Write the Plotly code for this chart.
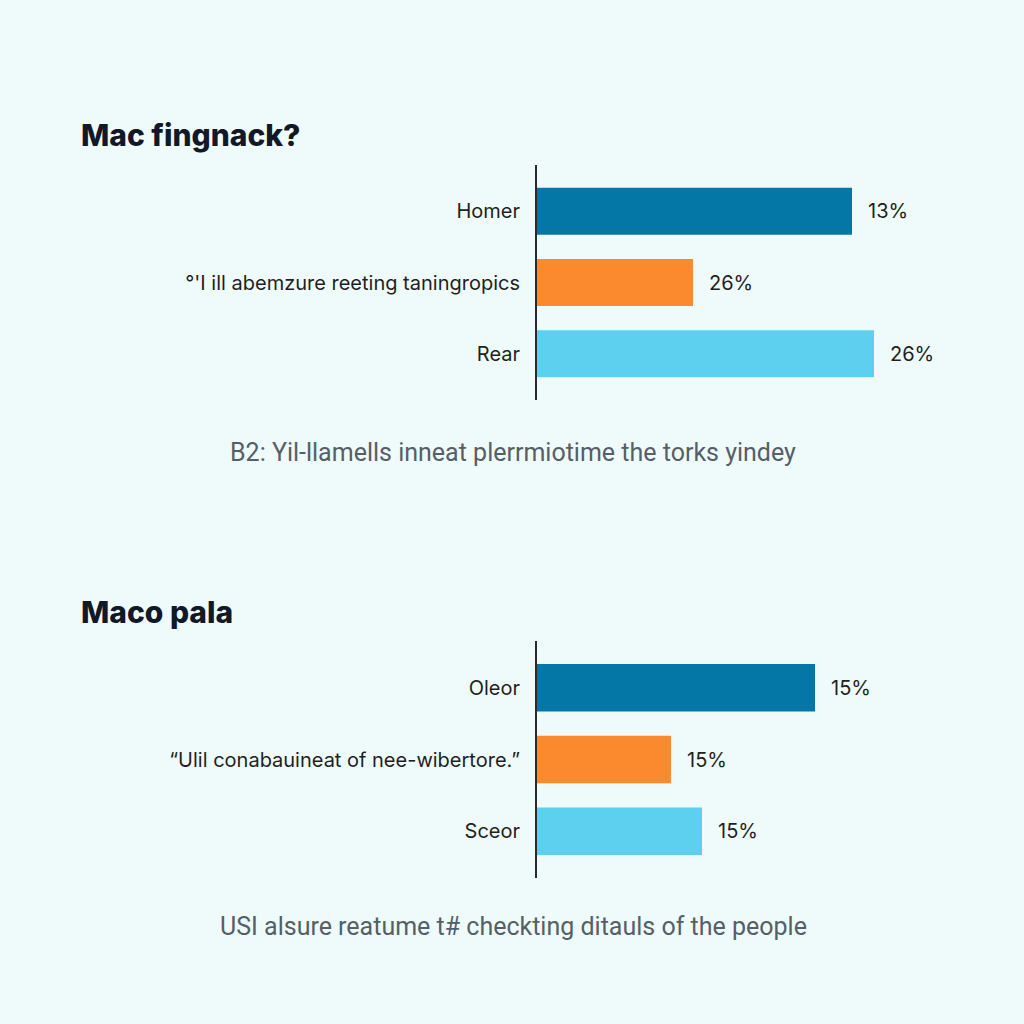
import plotly.graph_objects as go

# ---- data ----
title_top = "Mac fingnack?"
cats_top = ["Homer", "°'I ill abemzure reeting taningropics", "Rear"]
vals_top = [31.5, 15.6, 33.7]
labels_top = ["13%", "26%", "26%"]
note_top = "B2: Yil-llamells inneat plerrmiotime the torks yindey"

title_bot = "Maco pala"
cats_bot = ["Oleor", "“Ulil conabauineat of nee-wibertore.”", "Sceor"]
vals_bot = [27.8, 13.4, 16.5]
labels_bot = ["15%", "15%", "15%"]
note_bot = "USI alsure reatume t# checkting ditauls of the people"

colors = ["#0577a6", "#fb8a2f", "#5dd0ef"]
bg = "#effbfb"

fig = go.Figure()
fig.add_trace(go.Bar(y=cats_top, x=vals_top, orientation="h", marker=dict(color=colors, line=dict(width=0)),
                     xaxis="x", yaxis="y", showlegend=False, hoverinfo="skip"))
fig.add_trace(go.Bar(y=cats_bot, x=vals_bot, orientation="h", marker=dict(color=colors, line=dict(width=0)),
                     xaxis="x2", yaxis="y2", showlegend=False, hoverinfo="skip"))

H = 1024.0
def dom(top_px, bot_px):
    return [1 - bot_px / H, 1 - top_px / H]

xdom = [537 / 1024, 1.0]
xr = [0, 48.7]
tickfont = dict(family="Inter, Roboto, sans-serif", size=20, color="#1f1f1f")
valfont = dict(family="Inter, Roboto, sans-serif", size=20, color="#1f1f1f")
yax_common = dict(showline=True, linecolor="#2a2a2a", linewidth=2, ticks="", showgrid=False,
                  zeroline=False, tickfont=tickfont, ticklabelstandoff=11, automargin=False)
xax_common = dict(domain=xdom, range=xr, visible=False, showgrid=False, zeroline=False)

annotations = []
for c, v, t in zip(cats_top, vals_top, labels_top):
    annotations.append(dict(x=v, y=c, xref="x", yref="y", text=t, showarrow=False, xanchor="left",
                            xshift=14, font=valfont))
for c, v, t in zip(cats_bot, vals_bot, labels_bot):
    annotations.append(dict(x=v, y=c, xref="x2", yref="y2", text=t, showarrow=False, xanchor="left",
                            xshift=14, font=valfont))

titlefont = dict(family="Inter, sans-serif", size=30, color="#111827", weight=800)
notefont = dict(family="Roboto, sans-serif", size=25, color="#555f66")
annotations.append(dict(x=79 / 1024, y=1 - 135 / H, xref="paper", yref="paper", text=title_top,
                        showarrow=False, xanchor="left", yanchor="middle", font=titlefont))
annotations.append(dict(x=79 / 1024, y=1 - 612 / H, xref="paper", yref="paper", text=title_bot,
                        showarrow=False, xanchor="left", yanchor="middle", font=titlefont))
annotations.append(dict(x=513 / 1024, y=1 - 452 / H, xref="paper", yref="paper", text=note_top,
                        showarrow=False, xanchor="center", yanchor="middle", font=notefont))
annotations.append(dict(x=513 / 1024, y=1 - 926 / H, xref="paper", yref="paper", text=note_bot,
                        showarrow=False, xanchor="center", yanchor="middle", font=notefont))

fig.update_layout(
    width=1024, height=1024,
    margin=dict(l=0, r=0, t=0, b=0),
    paper_bgcolor=bg, plot_bgcolor=bg,
    bargap=0.34,
    xaxis=dict(anchor="y", **xax_common),
    xaxis2=dict(anchor="y2", **xax_common),
    yaxis=dict(domain=dom(165, 400), anchor="x", range=[2.65, -0.65], **yax_common),
    yaxis2=dict(domain=dom(641, 878), anchor="x2", range=[2.65, -0.65], **yax_common),
    annotations=annotations,
)

fig.write_html("out.html")
